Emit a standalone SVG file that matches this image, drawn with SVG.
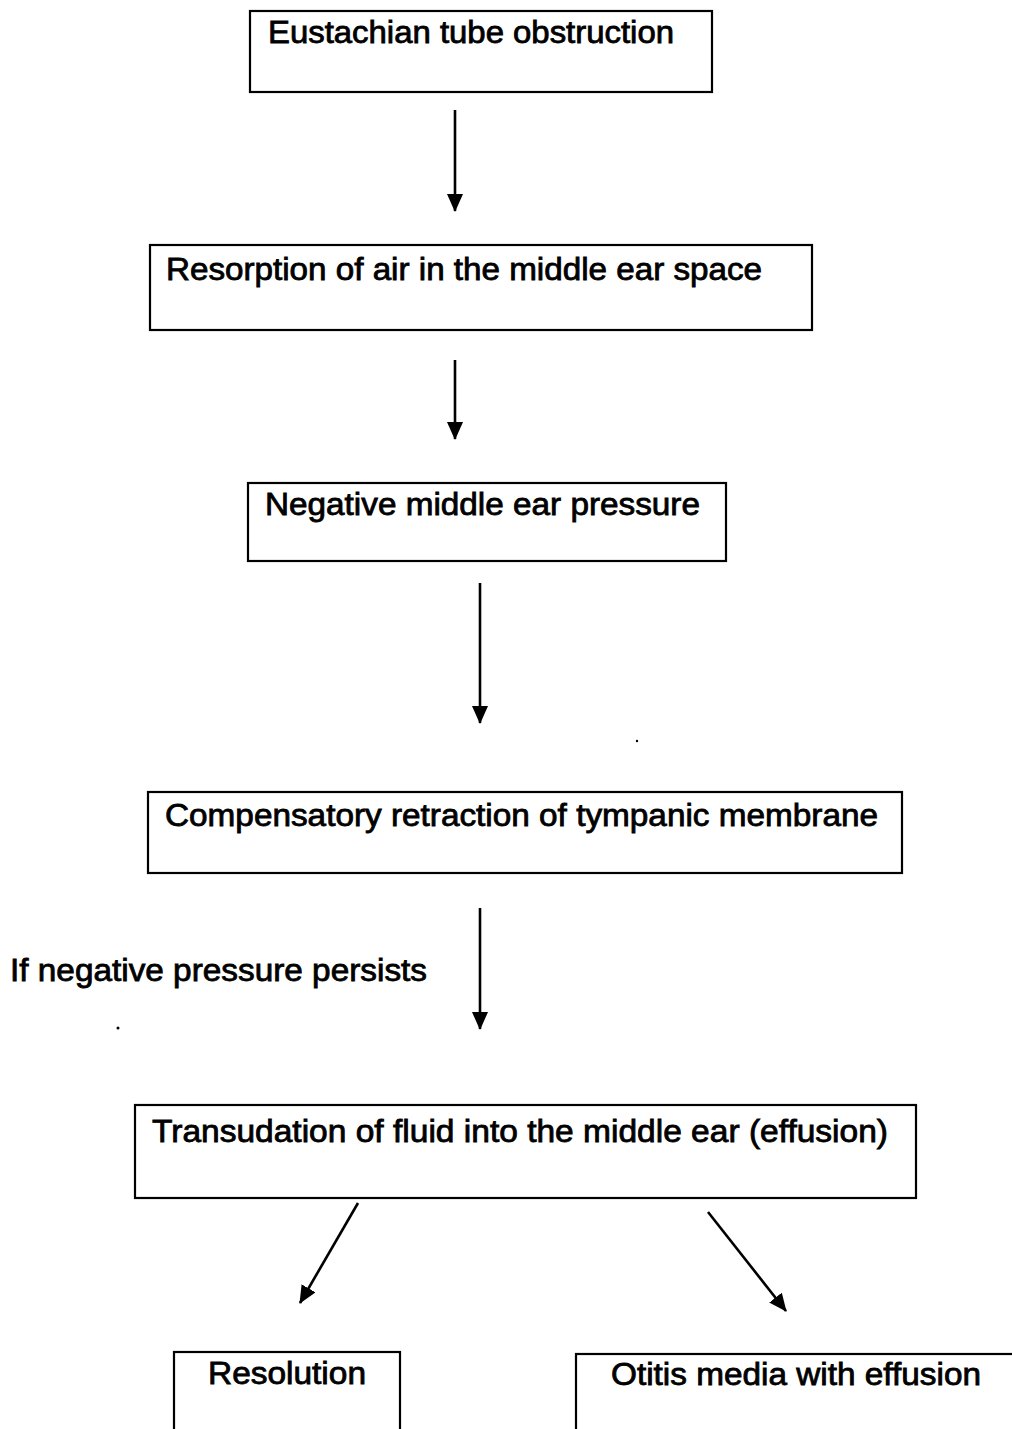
<svg xmlns="http://www.w3.org/2000/svg" width="1012" height="1429" viewBox="0 0 1012 1429">
<style>
.box{fill:#fff;stroke:#000;stroke-width:2.2}
.t{font-family:"Liberation Sans",Arial,sans-serif;font-size:31px;fill:#000;stroke:#000;stroke-width:0.8}
</style>
<defs>
<marker id="ah2" viewBox="0 0 18 16" refX="17" refY="8" markerWidth="18" markerHeight="16" markerUnits="userSpaceOnUse" orient="auto">
<path d="M0,0 L18,8 L0,16 Z" fill="#000"/>
</marker>
</defs>
<rect width="1012" height="1429" fill="#fff"/>
<g id="n1"><rect class="box" x="250" y="11" width="462" height="81"/><text class="t" x="268" y="43" textLength="406" lengthAdjust="spacingAndGlyphs">Eustachian tube obstruction</text></g>
<g id="n2"><rect class="box" x="150" y="245" width="662" height="85"/><text class="t" x="166" y="280" textLength="596" lengthAdjust="spacingAndGlyphs">Resorption of air in the middle ear space</text></g>
<g id="n3"><rect class="box" x="248" y="483" width="478" height="78"/><text class="t" x="265" y="515" textLength="435" lengthAdjust="spacingAndGlyphs">Negative middle ear pressure</text></g>
<g id="n4"><rect class="box" x="148" y="792" width="754" height="81"/><text class="t" x="165" y="826" textLength="713" lengthAdjust="spacingAndGlyphs">Compensatory retraction of tympanic membrane</text></g>
<g id="n5"><rect class="box" x="135" y="1105" width="781" height="93"/><text class="t" x="152" y="1142" textLength="736" lengthAdjust="spacingAndGlyphs">Transudation of fluid into the middle ear (effusion)</text></g>
<g id="n6"><rect class="box" x="174" y="1352" width="226" height="100"/><text class="t" x="208" y="1384" textLength="158" lengthAdjust="spacingAndGlyphs">Resolution</text></g>
<g id="n7"><rect class="box" x="576" y="1354" width="460" height="100"/><text class="t" x="611" y="1385" textLength="370" lengthAdjust="spacingAndGlyphs">Otitis media with effusion</text></g>
<g id="label"><text class="t" x="10" y="981" textLength="417" lengthAdjust="spacingAndGlyphs">If negative pressure persists</text></g>
<g id="connectors" stroke="#000" stroke-width="2.6" fill="none">
<line x1="455" y1="110" x2="455" y2="211" marker-end="url(#ah2)"/>
<line x1="455" y1="360" x2="455" y2="439" marker-end="url(#ah2)"/>
<line x1="480" y1="583" x2="480" y2="723" marker-end="url(#ah2)"/>
<line x1="480" y1="908" x2="480" y2="1029" marker-end="url(#ah2)"/>
<line x1="358" y1="1203" x2="300" y2="1303" marker-end="url(#ah2)"/>
<line x1="708" y1="1212" x2="786" y2="1311" marker-end="url(#ah2)"/>
</g>
<circle cx="637" cy="741" r="1.2" fill="#000"/>
<circle cx="118" cy="1028" r="1.5" fill="#000"/>
</svg>
